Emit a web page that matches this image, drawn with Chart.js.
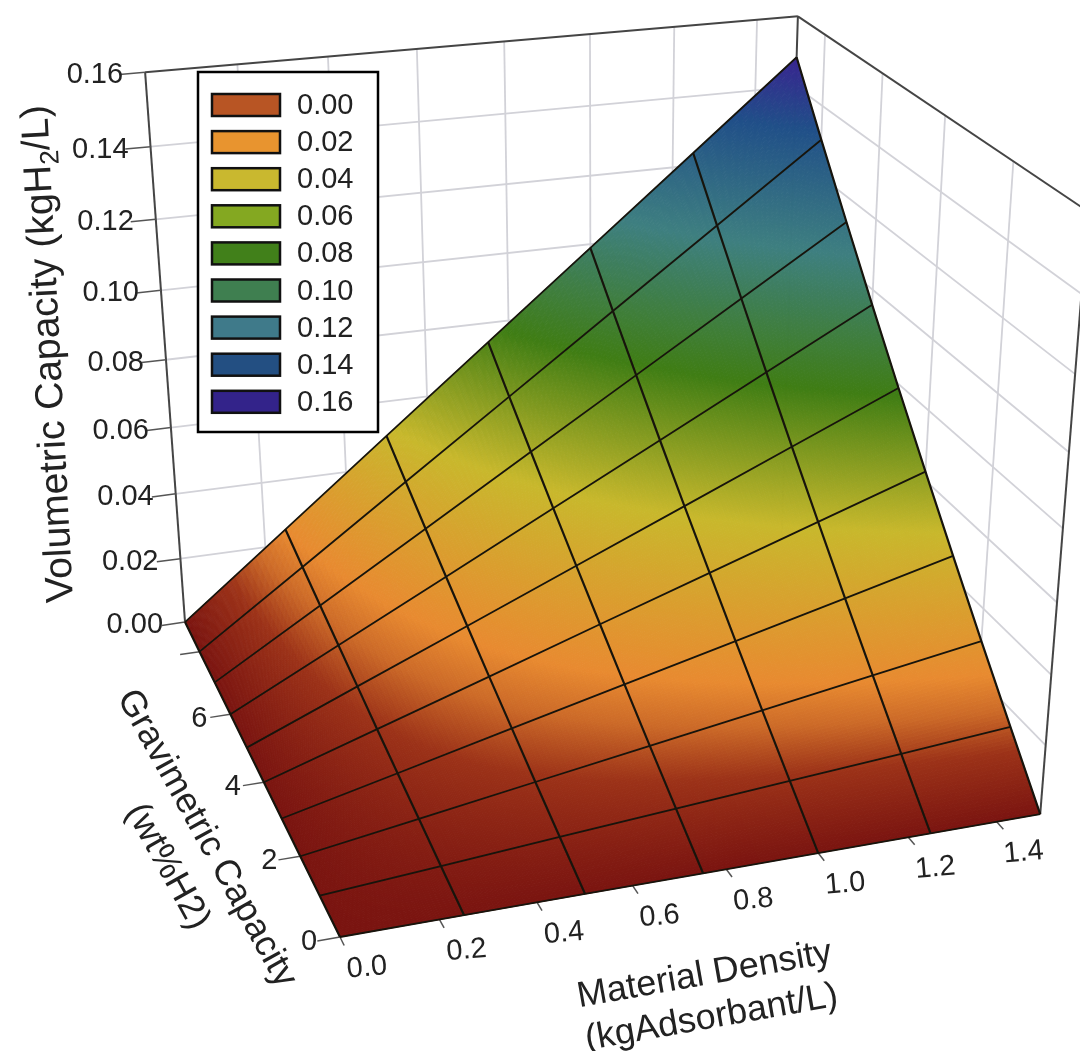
<!DOCTYPE html>
<html>
<head>
<meta charset="utf-8">
<title>Volumetric capacity surface</title>
<script src="https://cdn.jsdelivr.net/npm/chart.js@4"></script>
<style>
  html, body { margin: 0; padding: 0; background: #fff; }
  canvas { display: block; }
</style>
</head>
<body>
<canvas id="chart" width="1080" height="1051"></canvas>
<script>
// surface grid
const densities = [0, 0.25, 0.5, 0.75, 1, 1.25, 1.5];
const gravimetric = [0, 1, 2, 3, 4, 5, 6, 7, 8, 9];
// one row per gravimetric value, one column per density
const volumes = [
  [0, 0, 0, 0, 0, 0, 0],
  [0, 0.0025, 0.0051, 0.0076, 0.0101, 0.0126, 0.0152],
  [0, 0.0051, 0.0102, 0.0153, 0.0204, 0.0255, 0.0306],
  [0, 0.0077, 0.0155, 0.0232, 0.0309, 0.0386, 0.0464],
  [0, 0.0104, 0.0208, 0.0313, 0.0417, 0.0521, 0.0625],
  [0, 0.0132, 0.0263, 0.0395, 0.0526, 0.0658, 0.0789],
  [0, 0.016, 0.0319, 0.0479, 0.0638, 0.0798, 0.0957],
  [0, 0.0188, 0.0376, 0.0565, 0.0753, 0.0941, 0.1129],
  [0, 0.0217, 0.0435, 0.0652, 0.087, 0.1087, 0.1304],
  [0, 0.0247, 0.0495, 0.0742, 0.0989, 0.1236, 0.1484],
];

const densityTicks = [0, 0.2, 0.4, 0.6, 0.8, 1.0, 1.2, 1.4];
const densityLabels = ["0.0", "0.2", "0.4", "0.6", "0.8", "1.0", "1.2", "1.4"];
const gravTicks = [0, 2, 4, 6, 8];
const gravLabels = ["0", "2", "4", "6", ""];
const volumeTicks = [0, 0.02, 0.04, 0.06, 0.08, 0.1, 0.12, 0.14, 0.16];
const volumeLabels = ["0.00", "0.02", "0.04", "0.06", "0.08", "0.10", "0.12", "0.14", "0.16"];

const legendLabels = ["0.00", "0.02", "0.04", "0.06", "0.08", "0.10", "0.12", "0.14", "0.16"];
const legendColors = ["#b85524", "#e8942f", "#c9b82f", "#84a821", "#41801a", "#3f7f50", "#3f7a8a", "#234f82", "#33238a"];

// value -> colour ramp of the surface
const rampValues = [0, 0.011, 0.018, 0.0245, 0.051, 0.0775, 0.106, 0.1325, 0.15];
const rampColors = [
  [122, 20, 16], [156, 50, 24], [204, 106, 40], [232, 138, 48], [200, 184, 44],
  [63, 125, 20], [62, 127, 128], [32, 79, 136], [58, 32, 144],
];

const DMAX = 1.5, GMAX = 9, VMAX = 0.16;
const FONT = '"Liberation Sans", Arial, sans-serif';
const TEXT = "#222";

// perspective of the box, fitted on its visible corners
function project(d, g, v) {
  const a = d / DMAX, b = g / GMAX, c = v / VMAX;
  const w = 1 + 0.0769 * a + 0.2069 * b - 0.1057 * c;
  return {
    x: (340 + 780.2 * a - 116.7 * b - 63.5 * c) / w,
    y: (937 - 60.3 * a - 186.2 * b - 671.3 * c) / w,
  };
}

function rampColor(v) {
  let i = 0;
  while (i < rampValues.length - 2 && v > rampValues[i + 1]) i++;
  const t = Math.min(1, Math.max(0, (v - rampValues[i]) / (rampValues[i + 1] - rampValues[i])));
  const a = rampColors[i], b = rampColors[i + 1];
  return `rgb(${a[0] + (b[0] - a[0]) * t},${a[1] + (b[1] - a[1]) * t},${a[2] + (b[2] - a[2]) * t})`;
}

function lineSet(label, data, color, width, order) {
  return {
    label, data, order,
    showLine: true, borderColor: color, borderWidth: width,
    pointRadius: 0, pointHoverRadius: 0, fill: false, tension: 0,
  };
}

const datasets = [];

// mesh on top of the surface
gravimetric.forEach((g, r) => {
  datasets.push(lineSet("g" + g, densities.map((d, c) => project(d, g, volumes[r][c])), "#17140c", 1.8, 1));
});
densities.forEach((d, c) => {
  datasets.push(lineSet("d" + d, gravimetric.map((g, r) => project(d, g, volumes[r][c])), "#17140c", 2.2, 1));
});

// surface nodes, painted by the plugin below
const surfaceNodes = [];
gravimetric.forEach((g, r) => densities.forEach((d, c) => surfaceNodes.push(project(d, g, volumes[r][c]))));
datasets.push({ label: "surface", data: surfaceNodes, order: 2, pointRadius: 0, showLine: false });

// axis ticks
volumeTicks.forEach((v) => {
  datasets.push(lineSet("vt" + v, [project(-0.055, GMAX, v), project(0, GMAX, v)], "#555", 1.5, 3));
});
gravTicks.forEach((g) => {
  datasets.push(lineSet("gt" + g, [project(-0.045, g, 0), project(0, g, 0)], "#555", 1.5, 3));
});
densityTicks.forEach((d) => {
  datasets.push(lineSet("dt" + d, [project(d, -0.2, 0), project(d, 0, 0)], "#555", 1.5, 3));
});

// box outline
const boxLines = [
  [[0, GMAX, 0], [0, GMAX, VMAX]],
  [[0, GMAX, VMAX], [DMAX, GMAX, VMAX]],
  [[DMAX, GMAX, VMAX], [DMAX, 0, VMAX]],
  [[DMAX, 0, VMAX], [DMAX, 0, 0]],
  [[DMAX, GMAX, VMAX], [DMAX, GMAX, 0]],
];
boxLines.forEach((l, i) => {
  datasets.push(lineSet("box" + i, l.map((p) => project(p[0], p[1], p[2])), "#454545", 2, 4));
});

// wall grid
const GRID = "#d2d2d8";
volumeTicks.slice(1, -1).forEach((v) => {
  datasets.push(lineSet("wb" + v, [project(0, GMAX, v), project(DMAX, GMAX, v)], GRID, 1.8, 5));
  datasets.push(lineSet("wr" + v, [project(DMAX, GMAX, v), project(DMAX, 0, v)], GRID, 1.8, 5));
});
densityTicks.slice(1).forEach((d) => {
  datasets.push(lineSet("wv" + d, [project(d, GMAX, 0), project(d, GMAX, VMAX)], GRID, 1.8, 5));
});
gravTicks.slice(1).forEach((g) => {
  datasets.push(lineSet("wg" + g, [project(DMAX, g, 0), project(DMAX, g, VMAX)], GRID, 1.8, 5));
});

function drawSurface(chart) {
  const ctx = chart.ctx;
  const sx = chart.scales.x, sy = chart.scales.y;
  const N = 24;
  const node = (r, c, u, t) => {
    // position inside one cell of the table
    const g0 = gravimetric[r], g1 = gravimetric[r + 1];
    const d0 = densities[c], d1 = densities[c + 1];
    const v = (volumes[r][c] * (1 - u) + volumes[r][c + 1] * u) * (1 - t) +
      (volumes[r + 1][c] * (1 - u) + volumes[r + 1][c + 1] * u) * t;
    const p = project(d0 + (d1 - d0) * u, g0 + (g1 - g0) * t, v);
    return { x: sx.getPixelForValue(p.x), y: sy.getPixelForValue(p.y), v };
  };
  ctx.save();
  ctx.lineWidth = 1;
  for (let r = 0; r < gravimetric.length - 1; r++) {
    for (let c = 0; c < densities.length - 1; c++) {
      for (let i = 0; i < N; i++) {
        for (let j = 0; j < N; j++) {
          const p1 = node(r, c, i / N, j / N);
          const p2 = node(r, c, (i + 1) / N, j / N);
          const p3 = node(r, c, (i + 1) / N, (j + 1) / N);
          const p4 = node(r, c, i / N, (j + 1) / N);
          const col = rampColor((p1.v + p2.v + p3.v + p4.v) / 4);
          ctx.fillStyle = col;
          ctx.strokeStyle = col;
          ctx.beginPath();
          ctx.moveTo(p1.x, p1.y);
          ctx.lineTo(p2.x, p2.y);
          ctx.lineTo(p3.x, p3.y);
          ctx.lineTo(p4.x, p4.y);
          ctx.closePath();
          ctx.fill();
          ctx.stroke();
        }
      }
    }
  }
  ctx.restore();
}

// draws a run of [text, isSub] pieces centred on cx,cy
function drawTitle(ctx, parts, cx, cy, deg, size) {
  ctx.save();
  ctx.translate(cx, cy);
  ctx.rotate((deg * Math.PI) / 180);
  ctx.fillStyle = TEXT;
  ctx.textBaseline = "alphabetic";
  ctx.textAlign = "left";
  let total = 0;
  parts.forEach((p) => {
    ctx.font = `${p[1] ? size * 0.68 : size}px ${FONT}`;
    total += ctx.measureText(p[0]).width;
  });
  let x = -total / 2;
  parts.forEach((p) => {
    ctx.font = `${p[1] ? size * 0.68 : size}px ${FONT}`;
    ctx.fillText(p[0], x, size * 0.36 + (p[1] ? size * 0.22 : 0));
    x += ctx.measureText(p[0]).width;
  });
  ctx.restore();
}

const surfacePlugin = {
  id: "surface",
  beforeDatasetDraw(chart, args) {
    if (chart.data.datasets[args.index].label === "surface") drawSurface(chart);
  },
  afterDatasetsDraw(chart) {
    const ctx = chart.ctx;
    const sx = chart.scales.x, sy = chart.scales.y;
    const px = (p) => ({ x: sx.getPixelForValue(p.x), y: sy.getPixelForValue(p.y) });

    // tick labels
    ctx.save();
    ctx.fillStyle = TEXT;
    ctx.font = `29px ${FONT}`;
    ctx.textBaseline = "middle";
    ctx.textAlign = "right";
    volumeTicks.forEach((v, i) => {
      const p = px(project(0, GMAX, v));
      ctx.fillText(volumeLabels[i], p.x - 22, p.y + 3);
    });
    ctx.textAlign = "center";
    gravTicks.forEach((g, i) => {
      const p = px(project(0, g, 0));
      ctx.fillText(gravLabels[i], p.x - 31, p.y + 5);
    });
    densityTicks.forEach((d, i) => {
      const p = px(project(d, 0, 0));
      ctx.save();
      ctx.translate(p.x + 27, p.y + 31);
      ctx.rotate((-5 * Math.PI) / 180);
      ctx.fillText(densityLabels[i], 0, 0);
      ctx.restore();
    });
    ctx.restore();

    // axis titles
    drawTitle(ctx, [["Volumetric Capacity (kgH", false], ["2", true], ["/L)", false]], 46, 354, -93, 39);
    drawTitle(ctx, [["Gravimetric Capacity", false]], 209, 837, 61, 36);
    drawTitle(ctx, [["(wt%H2)", false]], 170, 865, 61, 36);
    drawTitle(ctx, [["Material Density", false]], 704, 972, -10, 36);
    drawTitle(ctx, [["(kgAdsorbant/L)", false]], 711, 1015, -10, 36);

    // legend
    ctx.save();
    ctx.fillStyle = "#fff";
    ctx.strokeStyle = "#000";
    ctx.lineWidth = 2.5;
    ctx.fillRect(198, 72, 180, 360);
    ctx.strokeRect(198, 72, 180, 360);
    ctx.font = `29px ${FONT}`;
    ctx.textAlign = "left";
    ctx.textBaseline = "middle";
    legendLabels.forEach((t, i) => {
      const y = 94 + i * 37.1;
      ctx.fillStyle = legendColors[i];
      ctx.fillRect(212, y, 68, 22);
      ctx.lineWidth = 2.5;
      ctx.strokeStyle = "#111";
      ctx.strokeRect(212, y, 68, 22);
      ctx.fillStyle = TEXT;
      ctx.fillText(t, 297, y + 12);
    });
    ctx.restore();
  },
};

new Chart(document.getElementById("chart"), {
  type: "scatter",
  data: { datasets },
  options: {
    responsive: false,
    animation: false,
    events: [],
    layout: { padding: 0 },
    plugins: { legend: { display: false }, tooltip: { enabled: false } },
    scales: {
      x: { type: "linear", min: 0, max: 1080, display: false },
      y: { type: "linear", min: 0, max: 1051, reverse: true, display: false },
    },
  },
  plugins: [surfacePlugin],
});
</script>
</body>
</html>
